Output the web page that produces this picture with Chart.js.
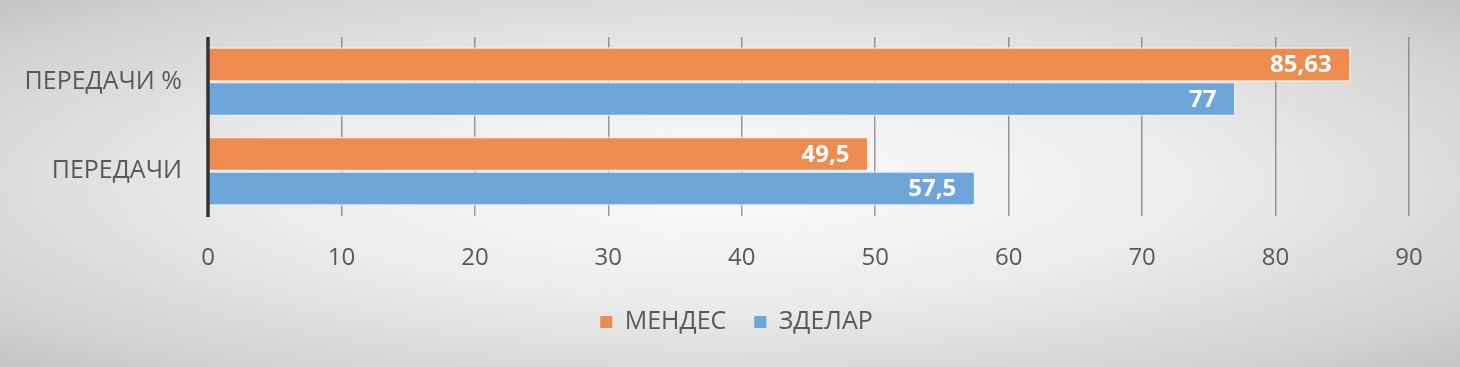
<!DOCTYPE html>
<html>
<head>
<meta charset="utf-8">
<script src="https://cdn.jsdelivr.net/npm/chart.js@4.4.0/dist/chart.umd.min.js"></script>
<style>
    html, body { margin: 0; padding: 0; }
    body {
        width: 1460px;
        height: 367px;
        background: radial-gradient(ellipse at 50% 50%, #fbfbfb 0%, #ececec 45%, #d2d2d2 85%, #c4c4c4 100%);
    }
    #wrap { position: relative; width: 1460px; height: 367px; }
</style>
</head>
<body>
<div id="wrap">
    <canvas id="myChart" width="1460" height="367"></canvas>
</div>
<script>
const categories = ['ПЕРЕДАЧИ %', 'ПЕРЕДАЧИ']
const seriesNames = ['МЕНДЕС', 'ЗДЕЛАР']
const mendesValues = [85.63, 49.5]
const zdelarValues = [77, 57.5]
const xTicks = [0, 10, 20, 30, 40, 50, 60, 70, 80, 90]

const FONT = "'Open Sans', 'Noto Sans', sans-serif"
const TEXT_COLOR = '#595959'

// white numbers at the end of every bar, then the dark zero line on top
const barLabels = {
    id: 'barLabels',
    afterLayout(chart) {
        // legend is centred on the whole picture, not on the plot
        chart.legend.left += 32
        chart.legend.right += 32
    },
    afterDatasetsDraw(chart) {
        let ctx = chart.ctx
        let area = chart.chartArea
        ctx.save()
        ctx.fillStyle = '#ffffff'
        ctx.font = 'bold 24px ' + FONT
        ctx.textAlign = 'right'
        ctx.textBaseline = 'middle'
        chart.data.datasets.forEach(function (ds, i) {
            let meta = chart.getDatasetMeta(i)
            meta.data.forEach(function (bar, index) {
                let text = String(ds.data[index]).replace('.', ',')
                ctx.fillText(text, bar.x - 19, bar.y + 1)
            })
        })

        let x0 = chart.scales.x.getPixelForValue(0)
        ctx.strokeStyle = '#333333'
        ctx.lineWidth = 3.5
        ctx.beginPath()
        ctx.moveTo(x0, area.top)
        ctx.lineTo(x0, area.bottom + 1)
        ctx.stroke()
        ctx.restore()
    }
}

let ctx = document.getElementById('myChart')
let myChart = new Chart(ctx, {
    type: 'bar',
    data: {
        labels: categories,
        datasets: [{
            label: seriesNames[0],
            data: mendesValues,
            backgroundColor: '#ee8c4f',
            borderColor: 'rgba(255, 240, 225, 0.9)',
            borderWidth: 1.5,
            categoryPercentage: 0.77,
            barPercentage: 1.0
        }, {
            label: seriesNames[1],
            data: zdelarValues,
            backgroundColor: '#6ea6d9',
            borderColor: 'rgba(225, 240, 255, 0.9)',
            borderWidth: 1.5,
            categoryPercentage: 0.77,
            barPercentage: 1.0
        }]
    },
    options: {
        indexAxis: 'y',
        responsive: false,
        animation: false,
        layout: {
            padding: { top: 37, right: 51, left: 0, bottom: 22.5 }
        },
        scales: {
            x: {
                min: 0,
                max: 90,
                afterBuildTicks: function (axis) {
                    axis.ticks = xTicks.map(function (v) { return { value: v } })
                },
                afterFit: function (axis) { axis.height = 65.5 },
                grid: {
                    color: 'rgba(120, 120, 120, 0.75)',
                    lineWidth: 1.5,
                    drawTicks: false
                },
                border: { display: false },
                ticks: {
                    color: TEXT_COLOR,
                    font: { family: FONT, size: 24 },
                    padding: 28
                }
            },
            y: {
                afterFit: function (axis) {
                    axis.width = 208
                    axis.paddingTop = 0
                    axis.paddingBottom = 0
                },
                grid: { display: false, drawTicks: false },
                border: { display: false },
                ticks: {
                    color: TEXT_COLOR,
                    font: { family: FONT, size: 25 },
                    padding: 26
                }
            }
        },
        plugins: {
            legend: {
                position: 'bottom',
                labels: {
                    color: TEXT_COLOR,
                    font: { family: FONT, size: 25 },
                    boxWidth: 12,
                    boxHeight: 12,
                    padding: 28,
                    generateLabels: function (chart) {
                        return chart.data.datasets.map(function (ds, i) {
                            return {
                                text: ds.label,
                                fillStyle: ds.backgroundColor,
                                strokeStyle: ds.backgroundColor,
                                lineWidth: 0,
                                fontColor: TEXT_COLOR,
                                datasetIndex: i
                            }
                        })
                    }
                }
            },
            tooltip: { enabled: false }
        }
    },
    plugins: [barLabels]
});
</script>
</body>
</html>
